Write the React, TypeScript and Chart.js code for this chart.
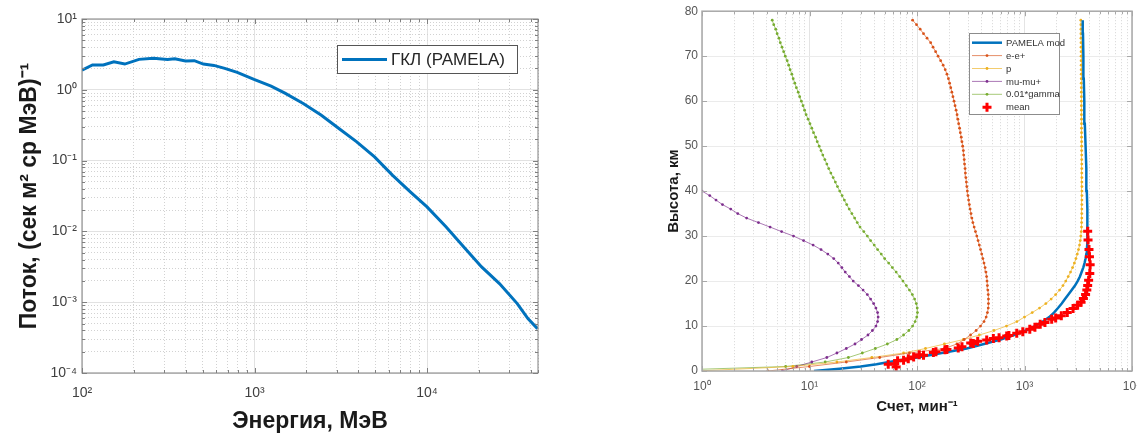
import React, { useEffect, useRef } from 'react';
import { Chart, registerables } from 'chart.js';

Chart.register(...registerables);

const FONT = '"Liberation Sans", Arial, Helvetica, sans-serif';

// ---------------- Left panel: GCR spectrum (PAMELA) ----------------
const energyMeV = [100, 115, 133, 153, 177, 214, 259, 313, 345, 398, 448, 505, 582, 672, 794, 993, 1248, 1510, 1916, 2430, 3085, 3915, 4965, 6300, 8000, 10000, 12880, 16340, 20730, 26300, 33350, 38460, 43700];
const fluxGCR = [1.9, 2.24, 2.24, 2.49, 2.31, 2.69, 2.78, 2.69, 2.75, 2.55, 2.58, 2.31, 2.21, 2.01, 1.76, 1.4, 1.13, 0.89, 0.64, 0.44, 0.284, 0.184, 0.113, 0.0623, 0.0362, 0.0222, 0.0116, 0.00604, 0.00315, 0.00183, 0.000955, 0.000586, 0.000423];
const leftLegendLabel = 'ГКЛ (PAMELA)';
const leftXTitle = 'Энергия, МэВ';
const leftYTitle = 'Поток, (сек м² ср МэВ)⁻¹';
const leftXDecades = [100, 1000, 10000];
const leftYDecades = [0.0001, 0.001, 0.01, 0.1, 1];
const leftXMin = 100;
const leftXMax = 44000;
const leftYMin = 0.0001;
const leftYMax = 10;

// ---------------- Right panel: count rate vs altitude ----------------
const altitudeKm = [0, 1, 2, 3, 4, 5, 6, 7, 8, 9, 10, 11, 12, 13, 14, 15, 16, 17, 18, 19, 20, 21, 22, 23, 24, 25, 26, 27, 28, 29, 30, 31, 32, 33, 34, 35, 36, 37, 38, 39, 40, 41, 42, 43, 44, 45, 46, 47, 48, 49, 50, 51, 52, 53, 54, 55, 56, 57, 58, 59, 60, 61, 62, 63, 64, 65, 66, 67, 68, 69, 70, 71, 72, 73, 74, 75, 76, 77, 78];
const countEE = [4.1, 10, 22, 45, 85, 180, 235, 275, 315, 355, 390, 420, 440, 452, 460, 462, 462, 460, 456, 452, 448, 444, 438, 430, 420, 410, 400, 390, 380, 370, 360, 350, 340, 331, 324, 318, 312, 307, 302, 298, 294, 291, 288, 285, 282, 280, 277, 275, 272, 270, 266, 262, 258, 253, 249, 244, 240, 236, 231, 226, 221, 216, 211, 206, 201, 196, 190, 183, 175, 166, 157, 149, 141, 134, 124, 115, 107, 99, 91];
const countP = [0.9, 7, 18, 38, 75, 120, 180, 270, 380, 520, 680, 850, 1000, 1180, 1380, 1580, 1770, 1950, 2120, 2280, 2420, 2550, 2680, 2800, 2910, 3010, 3100, 3180, 3250, 3300, 3340, 3370, 3390, 3400, 3410, 3410, 3415, 3415, 3420, 3420, 3420, 3420, 3415, 3415, 3410, 3410, 3410, 3405, 3405, 3400, 3400, 3400, 3395, 3395, 3390, 3390, 3390, 3385, 3385, 3380, 3380, 3380, 3375, 3375, 3370, 3370, 3370, 3365, 3365, 3360, 3360, 3360, 3355, 3355, 3350, 3350, 3350, 3345, 3340];
const countGamma = [0.3, 6, 14, 23, 31, 41, 53, 65, 75, 84, 91, 96, 99.5, 101, 100.5, 98.5, 95, 90.5, 85, 79.5, 74, 69, 64, 59, 54.5, 50, 46.5, 43, 40, 37, 34.5, 32, 29.5, 27.8, 26.3, 24.8, 23.4, 22.2, 21.1, 20.1, 19.1, 18.2, 17.4, 16.6, 15.8, 15.1, 14.5, 13.9, 13.3, 12.8, 12.3, 11.8, 11.4, 10.9, 10.5, 10.1, 9.7, 9.3, 9.0, 8.7, 8.4, 8.1, 7.85, 7.55, 7.3, 7.05, 6.85, 6.6, 6.4, 6.2, 5.95, 5.75, 5.55, 5.35, 5.2, 5.0, 4.85, 4.65, 4.5];
const altitudeMu = [0, 1, 2, 3, 4, 5, 6, 7, 8, 9, 10, 11, 12, 13, 14, 15, 16, 17, 18, 19, 20, 21, 22, 23, 24, 25, 26, 27, 28, 29, 30, 31, 32, 33, 34, 35, 36, 37, 38, 39, 40];
const countMu = [5.6, 7.6, 10.5, 14.5, 18, 22, 26.5, 30.5, 35, 38.5, 41.5, 43, 43.5, 43, 41.5, 39.5, 37, 34.5, 31.5, 28.5, 25.5, 23.5, 21.5, 20, 18.5, 16.8, 14.8, 12.8, 10.8, 8.8, 7.1, 5.5, 4.3, 3.35, 2.6, 2.15, 1.85, 1.55, 1.35, 1.18, 1.0];
const altitudePamela = [0, 0.5, 1, 1.5, 2, 3, 4, 5, 6, 7, 8, 9, 10, 11, 12, 13, 14, 15, 16, 17, 18, 19, 20, 21, 22, 23, 24, 25, 26, 27, 28, 30, 33, 36, 40, 45, 50, 55, 60, 65, 70, 75, 78];
const countPamela = [11, 19, 30, 42, 55, 100, 170, 290, 420, 600, 800, 1030, 1250, 1480, 1700, 1880, 2050, 2220, 2380, 2560, 2750, 2950, 3120, 3280, 3400, 3520, 3620, 3700, 3760, 3800, 3830, 3850, 3850, 3830, 3800, 3760, 3700, 3640, 3600, 3560, 3530, 3500, 3480];
const altitudeMean = [1.5, 0.9, 1.6, 2.3, 2.4, 2.7, 3.1, 3.6, 3.5, 4.1, 4.3, 4.7, 4.8, 5.1, 5.4, 6.2, 6.1, 6.6, 6.9, 7.2, 7.4, 7.8, 7.9, 8.4, 8.7, 9.3, 9.7, 10.4, 10.8, 11.5, 11.8, 12.3, 13.0, 13.9, 14.6, 15.3, 16.1, 17.0, 18.0, 19.0, 20.2, 21.7, 23.6, 25.4, 27.0, 29.1, 31.1];
const countMean = [54, 64, 62, 66, 75, 83, 93, 105, 115, 142, 150, 182, 190, 242, 262, 316, 334, 367, 445, 513, 580, 683, 716, 847, 964, 1120, 1250, 1400, 1550, 1790, 1950, 2200, 2500, 2830, 3120, 3360, 3530, 3700, 3800, 3870, 3950, 4050, 4080, 4020, 3980, 3900, 3870];
const rightLabels = ['PAMELA mod', 'e-e+', 'p', 'mu-mu+', '0.01*gamma', 'mean'];
const rightXTitle = 'Счет, мин⁻¹';
const rightYTitle = 'Высота, км';
const rightXDecades = [1, 10, 100, 1000];
const rightXMin = 1;
const rightXMax = 10000;
const altitudeTicks = [0, 10, 20, 30, 40, 50, 60, 70, 80];
const mantissas = [1, 2, 3, 4, 5, 6, 7, 8, 9];

// ---------------- helpers ----------------
const SUP: Record<string, string> = { '0': '⁰', '1': '¹', '2': '²', '3': '³', '4': '⁴', '5': '⁵', '6': '⁶', '7': '⁷', '8': '⁸', '9': '⁹', '-': '⁻' };
const sup = (n: number) => String(n).split('').map((c) => SUP[c] || c).join('');
const isDecade = (v: number) => {
  const l = Math.log10(v);
  return Math.abs(l - Math.round(l)) < 1e-6;
};
const decadeLabel = (v: any) => (isDecade(Number(v)) ? '10' + sup(Math.round(Math.log10(Number(v)))) : '');
function logTickValues(decades: number[], max: number) {
  const vals: number[] = [];
  decades.forEach((d) => mantissas.forEach((m) => {
    const v = +(d * m).toPrecision(8);
    if (v <= max) vals.push(v);
  }));
  if (vals[vals.length - 1] !== max) vals.push(max);
  return vals;
}
const pts = (xs: number[], ys: number[]) => xs.map((x, i) => ({ x, y: ys[i] }));

function framePlugin(color: string, width: number, xMajor: (v: number) => boolean, yMajor: (v: number) => boolean) {
  return {
    id: 'axesBox',
    afterDatasetsDraw(chart: any) {
      const { ctx, chartArea: a } = chart;
      const xs = chart.scales.x;
      const ys = chart.scales.y;
      ctx.save();
      ctx.setLineDash([]);
      ctx.strokeStyle = color;
      ctx.lineWidth = 1;
      ctx.beginPath();
      xs.ticks.forEach((t: any) => {
        const p = Math.round(xs.getPixelForValue(t.value)) + 0.5;
        const L = xMajor(t.value) ? 5 : 3;
        ctx.moveTo(p, a.bottom); ctx.lineTo(p, a.bottom - L);
        ctx.moveTo(p, a.top); ctx.lineTo(p, a.top + L);
      });
      ys.ticks.forEach((t: any) => {
        const p = Math.round(ys.getPixelForValue(t.value)) + 0.5;
        const L = yMajor(t.value) ? 5 : 3;
        ctx.moveTo(a.left, p); ctx.lineTo(a.left + L, p);
        ctx.moveTo(a.right, p); ctx.lineTo(a.right - L, p);
      });
      ctx.stroke();
      ctx.lineWidth = width;
      ctx.strokeRect(a.left, a.top, a.right - a.left, a.bottom - a.top);
      ctx.restore();
    },
  };
}

const leftLegendPlugin = {
  id: 'leftLegendBox',
  afterDraw(chart: any) {
    const ctx = chart.ctx;
    const ds = chart.data.datasets[0];
    ctx.save();
    ctx.fillStyle = '#ffffff';
    ctx.fillRect(337.5, 45.5, 180, 28);
    ctx.strokeStyle = '#555555';
    ctx.lineWidth = 1;
    ctx.strokeRect(337.5, 45.5, 180, 28);
    ctx.strokeStyle = ds.borderColor;
    ctx.lineWidth = ds.borderWidth;
    ctx.beginPath();
    ctx.moveTo(342, 59.5);
    ctx.lineTo(387, 59.5);
    ctx.stroke();
    ctx.fillStyle = '#262626';
    ctx.font = `17px ${FONT}`;
    ctx.textBaseline = 'middle';
    ctx.textAlign = 'left';
    ctx.fillText(ds.label, 391, 60);
    ctx.restore();
  },
};

const rightLegendPlugin = {
  id: 'rightLegendBox',
  afterDraw(chart: any) {
    const ctx = chart.ctx;
    ctx.save();
    ctx.fillStyle = '#ffffff';
    ctx.fillRect(369.5, 33.5, 90, 81);
    ctx.strokeStyle = '#8c8c8c';
    ctx.lineWidth = 1;
    ctx.strokeRect(369.5, 33.5, 90, 81);
    chart.data.datasets.forEach((ds: any, i: number) => {
      const y = 42.7 + i * 12.9;
      if (ds.showLine !== false) {
        ctx.strokeStyle = ds.legendLine || ds.borderColor;
        ctx.lineWidth = ds.borderWidth;
        ctx.beginPath();
        ctx.moveTo(372, y);
        ctx.lineTo(402, y);
        ctx.stroke();
      }
      if (ds.pointRadius > 0) {
        if (ds.pointStyle === 'cross') {
          ctx.strokeStyle = ds.pointBorderColor;
          ctx.lineWidth = ds.pointBorderWidth;
          ctx.beginPath();
          ctx.moveTo(387 - ds.pointRadius, y);
          ctx.lineTo(387 + ds.pointRadius, y);
          ctx.moveTo(387, y - ds.pointRadius);
          ctx.lineTo(387, y + ds.pointRadius);
          ctx.stroke();
        } else {
          ctx.fillStyle = ds.pointBackgroundColor;
          ctx.beginPath();
          ctx.arc(387, y, ds.pointRadius, 0, Math.PI * 2);
          ctx.fill();
        }
      }
      ctx.fillStyle = '#333333';
      ctx.font = `9.5px ${FONT}`;
      ctx.textBaseline = 'middle';
      ctx.textAlign = 'left';
      ctx.fillText(ds.label, 406, y + 0.5);
    });
    ctx.restore();
  },
};

function logGrid(major: string, minor: string) {
  return {
    drawTicks: false,
    lineWidth: 1,
    color: (c: any) => (c.tick && isDecade(c.tick.value) ? major : minor),
  };
}
const logBorder = {
  display: false,
  dash: (c: any) => (c.tick && isDecade(c.tick.value) ? [] : [1, 2]),
};

function leftConfig(): any {
  const xTicks = logTickValues(leftXDecades, leftXMax);
  const yTicks = logTickValues(leftYDecades, leftYMax);
  return {
    type: 'line',
    data: {
      datasets: [
        {
          label: leftLegendLabel,
          data: pts(energyMeV, fluxGCR),
          borderColor: '#0072BD',
          borderWidth: 3,
          pointRadius: 0,
          tension: 0,
          fill: false,
        },
      ],
    },
    options: {
      responsive: false,
      animation: false,
      layout: { padding: { left: 0, right: 22, top: 19, bottom: 0 } },
      plugins: { legend: { display: false }, tooltip: { enabled: false } },
      scales: {
        x: {
          type: 'logarithmic',
          min: leftXMin,
          max: leftXMax,
          afterBuildTicks: (s: any) => { s.ticks = xTicks.map((v) => ({ value: v })); },
          afterFit: (s: any) => { s.height = 61; },
          grid: logGrid('#e2e2e2', '#d2d2d2'),
          border: logBorder,
          ticks: { autoSkip: false, maxRotation: 0, padding: 12, color: '#404040', font: { family: FONT, size: 14 }, callback: decadeLabel },
          title: { display: true, text: leftXTitle, color: '#1a1a1a', font: { family: FONT, size: 23, weight: 'bold', lineHeight: 1 }, padding: { top: 0, bottom: 0.5 } },
        },
        y: {
          type: 'logarithmic',
          min: leftYMin,
          max: leftYMax,
          afterBuildTicks: (s: any) => { s.ticks = yTicks.map((v) => ({ value: v })); },
          afterFit: (s: any) => { s.width = 82; },
          grid: logGrid('#e2e2e2', '#d2d2d2'),
          border: logBorder,
          ticks: { autoSkip: false, padding: 5, color: '#404040', font: { family: FONT, size: 14 }, callback: decadeLabel },
          title: { display: true, text: leftYTitle, color: '#1a1a1a', font: { family: FONT, size: 23, weight: 'bold', lineHeight: 1 }, padding: { top: 18.5, bottom: 0 } },
        },
      },
    },
    plugins: [framePlugin('#808080', 1, isDecade, isDecade), leftLegendPlugin],
  };
}

function dotted(label: string, color: string, lineColor: string, xs: number[], ys: number[], order: number) {
  return {
    label,
    data: pts(xs, ys),
    borderColor: lineColor,
    legendLine: lineColor,
    borderWidth: 1,
    pointRadius: 1.4,
    pointBorderWidth: 0,
    pointBackgroundColor: color,
    pointBorderColor: color,
    tension: 0,
    fill: false,
    order,
  };
}

function rightConfig(): any {
  const xTicks = logTickValues(rightXDecades, rightXMax);
  return {
    type: 'line',
    data: {
      datasets: [
        {
          label: rightLabels[0],
          data: pts(countPamela, altitudePamela),
          borderColor: '#0072BD',
          borderWidth: 2.5,
          pointRadius: 0,
          tension: 0,
          fill: false,
          order: 1,
        },
        dotted(rightLabels[1], '#D95319', 'rgba(217,83,25,0.65)', countEE, altitudeKm, 2),
        dotted(rightLabels[2], '#EDB120', 'rgba(237,177,32,0.65)', countP, altitudeKm, 3),
        dotted(rightLabels[3], '#7E2F8E', 'rgba(126,47,142,0.65)', countMu, altitudeMu, 4),
        dotted(rightLabels[4], '#77AC30', 'rgba(119,172,48,0.65)', countGamma, altitudeKm, 5),
        {
          label: rightLabels[5],
          data: pts(countMean, altitudeMean),
          showLine: false,
          borderColor: '#ff0000',
          pointStyle: 'cross',
          pointRadius: 4.5,
          pointBorderWidth: 3,
          pointBorderColor: '#ff0000',
          pointBackgroundColor: '#ff0000',
          order: 0,
        },
      ],
    },
    options: {
      responsive: false,
      animation: false,
      layout: { padding: { left: 0, right: 28, top: 11, bottom: 0 } },
      plugins: { legend: { display: false }, tooltip: { enabled: false } },
      scales: {
        x: {
          type: 'logarithmic',
          min: rightXMin,
          max: rightXMax,
          afterBuildTicks: (s: any) => { s.ticks = xTicks.map((v) => ({ value: v })); },
          afterFit: (s: any) => { s.height = 63; },
          grid: logGrid('#e4e4e4', '#d6d6d6'),
          border: logBorder,
          ticks: { autoSkip: false, maxRotation: 0, padding: 8, color: '#555555', font: { family: FONT, size: 12 }, callback: decadeLabel },
          title: { display: true, text: rightXTitle, color: '#1a1a1a', font: { family: FONT, size: 15, weight: 'bold', lineHeight: 1 }, padding: { top: 0, bottom: 19.5 } },
        },
        y: {
          type: 'linear',
          min: 0,
          max: 80,
          afterBuildTicks: (s: any) => { s.ticks = altitudeTicks.map((v) => ({ value: v })); },
          afterFit: (s: any) => { s.width = 102; },
          grid: { drawTicks: false, color: '#ebebeb', lineWidth: 1 },
          border: { display: false },
          ticks: { autoSkip: false, padding: 4, color: '#555555', font: { family: FONT, size: 12 } },
          title: { display: true, text: rightYTitle, color: '#1a1a1a', font: { family: FONT, size: 15, weight: 'bold', lineHeight: 1 }, padding: { top: 66.5, bottom: 0 } },
        },
      },
    },
    plugins: [framePlugin('#a8a8a8', 1.5, isDecade, () => true), rightLegendPlugin],
  };
}

export default function App() {
  const leftRef = useRef<HTMLCanvasElement>(null);
  const rightRef = useRef<HTMLCanvasElement>(null);
  useEffect(() => {
    const c1 = new Chart(leftRef.current as HTMLCanvasElement, leftConfig());
    const c2 = new Chart(rightRef.current as HTMLCanvasElement, rightConfig());
    return () => {
      c1.destroy();
      c2.destroy();
    };
  }, []);
  return (
    <div style={{ position: 'fixed', left: 0, top: 0, width: 1137, height: 434, background: '#ffffff', overflow: 'hidden' }}>
      <div style={{ position: 'absolute', left: 0, top: 0, width: 560, height: 434 }}>
        <canvas ref={leftRef} width={560} height={434} style={{ display: 'block', width: 560, height: 434 }} />
      </div>
      <div style={{ position: 'absolute', left: 600, top: 0, width: 537, height: 434, overflow: 'hidden' }}>
        <canvas ref={rightRef} width={560} height={434} style={{ display: 'block', width: 560, height: 434 }} />
      </div>
    </div>
  );
}
